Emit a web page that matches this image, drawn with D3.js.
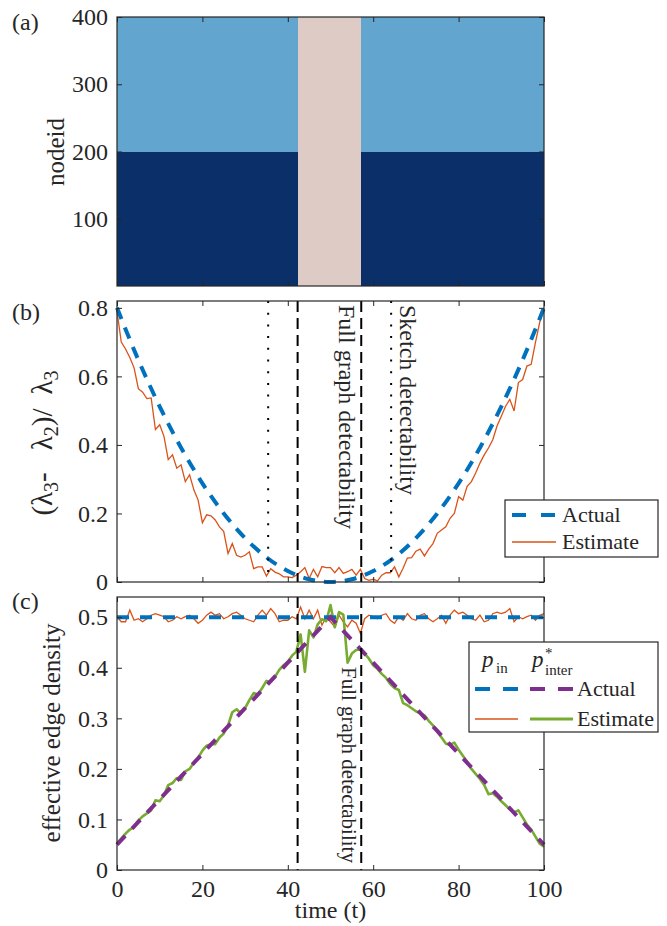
<!DOCTYPE html>
<html>
<head>
<meta charset="utf-8">
<script src="https://cdn.jsdelivr.net/npm/d3@7"></script>
<style>
  body { margin: 0; background: #fff; }
  svg text { font-family: "Liberation Serif", "Times New Roman", serif; fill: #262626; }
</style>
</head>
<body>
<div id="chart"></div>
<script>
// ---- data ----
const timeTicks = [0, 20, 40, 60, 80, 100];
const nodeTicks = [100, 200, 300, 400];
const gapTicks = [0, 0.2, 0.4, 0.6, 0.8];
const densityTicks = [0, 0.1, 0.2, 0.3, 0.4, 0.5];

// panel (a): community layout over time
const communityEdges = [0, 200, 400];
const windowEdges = [0, 42.3, 57.2, 100];

// detectability thresholds (time)
const fullDetect = [42.3, 57.2];
const sketchDetect = [35.4, 64.2];

// panel (b): spectral gap, actual curve sampled every 5 time steps
const actualTimes = [0, 5, 10, 15, 20, 25, 30, 35, 40, 45, 50, 55, 60, 65, 70, 75, 80, 85, 90, 95, 100];
const gapActual = [0.8, 0.648, 0.512, 0.392, 0.288, 0.2, 0.128, 0.072, 0.032, 0.008, 0,
                   0.008, 0.032, 0.072, 0.128, 0.2, 0.288, 0.392, 0.512, 0.648, 0.8];
// estimate, one value per time step t = 0..100
const gapEstimate = [
  0.79, 0.70, 0.68, 0.655, 0.625, 0.564, 0.554, 0.535, 0.537, 0.445,
  0.459, 0.425, 0.357, 0.371, 0.332, 0.342, 0.293, 0.313, 0.269, 0.239,
  0.173, 0.196, 0.193, 0.181, 0.161, 0.147, 0.083, 0.112, 0.078, 0.073,
  0.078, 0.088, 0.039, 0.044, 0.044, 0.017, 0.039, 0.029, 0.024, 0.015,
  0.015, 0.013, 0.02, 0.03, 0.042, 0.01, 0.037, 0.015, 0.045, 0.042,
  0.042, 0.027, 0.042, 0.025, 0.03, 0.037, 0.02, 0.037, 0.01, 0.005,
  0.008, 0.003, 0.02, 0.027, 0.027, 0.044, 0.015, 0.04, 0.07, 0.071,
  0.09, 0.096, 0.076, 0.096, 0.112, 0.142, 0.152, 0.161, 0.186, 0.2,
  0.249, 0.239, 0.279, 0.293, 0.318, 0.347, 0.371, 0.391, 0.415, 0.455,
  0.484, 0.513, 0.533, 0.499, 0.582, 0.591, 0.63, 0.635, 0.699, 0.758,
  0.797
];

// panel (c): edge densities
const pinActual = [0.5, 0.5, 0.5, 0.5, 0.5, 0.5, 0.5, 0.5, 0.5, 0.5, 0.5,
                   0.5, 0.5, 0.5, 0.5, 0.5, 0.5, 0.5, 0.5, 0.5, 0.5];
const pinterActual = [0.05, 0.095, 0.14, 0.185, 0.23, 0.275, 0.32, 0.365, 0.41, 0.455, 0.5,
                      0.455, 0.41, 0.365, 0.32, 0.275, 0.23, 0.185, 0.14, 0.095, 0.05];
const pinEstimate = [
  0.501, 0.491, 0.491, 0.514, 0.494, 0.497, 0.491, 0.497, 0.504, 0.507,
  0.504, 0.501, 0.491, 0.494, 0.501, 0.497, 0.501, 0.504, 0.497, 0.488,
  0.494, 0.504, 0.510, 0.504, 0.507, 0.497, 0.501, 0.507, 0.510, 0.504,
  0.497, 0.494, 0.491, 0.504, 0.514, 0.504, 0.517, 0.507, 0.491, 0.494,
  0.494, 0.501, 0.497, 0.520, 0.497, 0.514, 0.497, 0.514, 0.484, 0.501,
  0.491, 0.481, 0.504, 0.491, 0.481, 0.494, 0.488, 0.468, 0.497, 0.504,
  0.501, 0.497, 0.504, 0.507, 0.494, 0.488, 0.501, 0.494, 0.507, 0.497,
  0.494, 0.504, 0.507, 0.497, 0.491, 0.497, 0.504, 0.488, 0.504, 0.514,
  0.507, 0.510, 0.504, 0.497, 0.494, 0.504, 0.491, 0.494, 0.507, 0.510,
  0.507, 0.510, 0.517, 0.491, 0.501, 0.497, 0.501, 0.504, 0.494, 0.504,
  0.507
];
const pinterEstimate = [
  0.053, 0.062, 0.072, 0.08, 0.085, 0.098, 0.106, 0.112, 0.118, 0.138,
  0.136, 0.148, 0.168, 0.172, 0.182, 0.178, 0.195, 0.2, 0.212, 0.222,
  0.236, 0.246, 0.249, 0.249, 0.262, 0.27, 0.286, 0.312, 0.318, 0.31,
  0.32, 0.336, 0.35, 0.347, 0.36, 0.374, 0.372, 0.382, 0.396, 0.405,
  0.412, 0.424, 0.432, 0.466, 0.392, 0.474, 0.46, 0.486, 0.496, 0.492,
  0.524, 0.48, 0.51, 0.505, 0.41, 0.428, 0.435, 0.436, 0.428, 0.418,
  0.405, 0.398, 0.388, 0.38, 0.368, 0.36, 0.356, 0.33, 0.326, 0.32,
  0.314, 0.31, 0.306, 0.295, 0.286, 0.274, 0.262, 0.25, 0.248, 0.252,
  0.238, 0.226, 0.214, 0.2, 0.19, 0.18, 0.168, 0.15, 0.152, 0.145,
  0.136, 0.128, 0.12, 0.114, 0.118, 0.104, 0.09, 0.08, 0.066, 0.052,
  0.046
];

// ---- layout ----
const width = 667;
const height = 926;
const left = 117;
const right = 544;
const tickFont = 24;
const axisColor = '#262626';
const blue = '#0072bd', orange = '#d95319', purple = '#7e2f8e', green = '#77ac30';

const x = d3.scaleLinear().domain([0, 100]).range([left, right]);
const yA = d3.scaleLinear().domain([0, 400]).range([286, 17]);
const yB = d3.scaleLinear().domain([0, 0.82]).range([582, 301]);
const yC = d3.scaleLinear().domain([0, 0.54]).range([870, 597]);

const fmtDec = d => d === 0 ? '0' : d3.format('.1f')(d);

const svg = d3.select('#chart').append('svg')
    .attr('width', width)
    .attr('height', height);

let styleAxis = function (g, size) {
    g.select('.domain').remove();
    g.selectAll('line').attr('stroke', axisColor);
    g.selectAll('text')
        .attr('font-family', '"Liberation Serif", "Times New Roman", serif')
        .attr('font-size', size)
        .attr('fill', axisColor);
}

// axes box with inward ticks on all four sides
let drawFrame = function (g, y, yTicks, yFmt, xLabels) {
    const [yBot, yTop] = y.range();
    g.append('g').attr('transform', `translate(0,${yBot})`)
        .call(d3.axisBottom(x).tickValues(timeTicks).tickSize(-5).tickPadding(10)
            .tickFormat(xLabels ? d3.format('d') : ''))
        .call(s => styleAxis(s, tickFont));
    g.append('g').attr('transform', `translate(0,${yTop})`)
        .call(d3.axisTop(x).tickValues(timeTicks).tickSize(-5).tickFormat(''))
        .call(s => styleAxis(s, tickFont));
    g.append('g').attr('transform', `translate(${left},0)`)
        .call(d3.axisLeft(y).tickValues(yTicks).tickSize(-5).tickPadding(9).tickFormat(yFmt))
        .call(s => styleAxis(s, tickFont));
    g.append('g').attr('transform', `translate(${right},0)`)
        .call(d3.axisRight(y).tickValues(yTicks).tickSize(-5).tickFormat(''))
        .call(s => styleAxis(s, tickFont));
    g.append('rect')
        .attr('x', left).attr('y', yTop)
        .attr('width', right - left).attr('height', yBot - yTop)
        .attr('fill', 'none').attr('stroke', axisColor).attr('stroke-width', 1.2);
}

let vline = function (g, y, t, dash) {
    const [yBot, yTop] = y.range();
    g.append('line')
        .attr('x1', x(t)).attr('x2', x(t))
        .attr('y1', yTop).attr('y2', yBot)
        .attr('stroke', '#000').attr('stroke-width', 2)
        .attr('stroke-dasharray', dash);
}

let panelLabel = function (txt, py) {
    svg.append('text').attr('x', 12).attr('y', py).attr('font-size', 24).text(txt);
}

// ---- panel (a) ----
const gA = svg.append('g');
const blockColors = ['#0a2f69', '#62a5cf'];
const mergedColor = '#dfcbc5';
d3.range(windowEdges.length - 1).forEach(w => {
    d3.range(communityEdges.length - 1).forEach(c => {
        gA.append('rect')
            .attr('x', x(windowEdges[w]))
            .attr('y', yA(communityEdges[c + 1]))
            .attr('width', x(windowEdges[w + 1]) - x(windowEdges[w]))
            .attr('height', yA(communityEdges[c]) - yA(communityEdges[c + 1]))
            .attr('shape-rendering', 'crispEdges')
            .attr('fill', w === 1 ? mergedColor : blockColors[c]);
    });
});
drawFrame(gA, yA, nodeTicks, d3.format('d'), false);
gA.append('text')
    .attr('transform', `translate(64,152) rotate(-90)`)
    .attr('text-anchor', 'middle').attr('font-size', 25)
    .text('nodeid');
panelLabel('(a)', 30);

// ---- panel (b) ----
const gB = svg.append('g');
const lineB = d3.line().x((d, i) => x(i)).y(d => yB(d));
const lineBActual = d3.line().x((d, i) => x(actualTimes[i])).y(d => yB(d)).curve(d3.curveMonotoneX);

gB.append('path').datum(gapEstimate)
    .attr('d', lineB).attr('fill', 'none')
    .attr('stroke', orange).attr('stroke-width', 1.3);
gB.append('path').datum(gapActual)
    .attr('d', lineBActual).attr('fill', 'none')
    .attr('stroke', blue).attr('stroke-width', 4)
    .attr('stroke-dasharray', '12,9');

sketchDetect.forEach(t => vline(gB, yB, t, '2,9.7'));
fullDetect.forEach(t => vline(gB, yB, t, '11,6'));

gB.append('text')
    .attr('transform', `translate(339,305) rotate(90)`)
    .attr('font-size', 24).text('Full graph detectability');
gB.append('text')
    .attr('transform', `translate(400,305) rotate(90)`)
    .attr('font-size', 24).text('Sketch detectability');

drawFrame(gB, yB, gapTicks, fmtDec, false);

// y label with subscripts
const labB = gB.append('text')
    .attr('transform', `translate(52,443) rotate(-90)`)
    .attr('text-anchor', 'middle').attr('font-size', 29);
labB.append('tspan').text('(λ');
labB.append('tspan').attr('font-size', 20).attr('dy', 6).text('3');
labB.append('tspan').attr('dy', -6).text('-');
labB.append('tspan').attr('dx', 22).text('λ');
labB.append('tspan').attr('font-size', 20).attr('dy', 6).text('2');
labB.append('tspan').attr('dy', -6).text(')/');
labB.append('tspan').attr('dx', 14).text('λ');
labB.append('tspan').attr('font-size', 20).attr('dy', 6).text('3');
panelLabel('(b)', 320);

// legend (b)
const legB = gB.append('g');
legB.append('rect').attr('x', 505).attr('y', 500).attr('width', 153).attr('height', 57)
    .attr('fill', '#fff').attr('stroke', axisColor).attr('stroke-width', 1.2);
legB.append('line').attr('x1', 512).attr('x2', 556).attr('y1', 515).attr('y2', 515)
    .attr('stroke', blue).attr('stroke-width', 4).attr('stroke-dasharray', '14,15');
legB.append('line').attr('x1', 512).attr('x2', 556).attr('y1', 542).attr('y2', 542)
    .attr('stroke', orange).attr('stroke-width', 1.3);
legB.append('text').attr('x', 562).attr('y', 522).attr('font-size', 22).text('Actual');
legB.append('text').attr('x', 562).attr('y', 549).attr('font-size', 22).text('Estimate');

// ---- panel (c) ----
const gC = svg.append('g');
const lineC = d3.line().x((d, i) => x(i)).y(d => yC(d));
const lineCActual = d3.line().x((d, i) => x(actualTimes[i])).y(d => yC(d));

gC.append('path').datum(pinEstimate)
    .attr('d', lineC).attr('fill', 'none')
    .attr('stroke', orange).attr('stroke-width', 1.3);
gC.append('path').datum(pinterEstimate)
    .attr('d', lineC).attr('fill', 'none')
    .attr('stroke', green).attr('stroke-width', 2.6).attr('stroke-linejoin', 'round');
gC.append('path').datum(pinActual)
    .attr('d', lineCActual).attr('fill', 'none')
    .attr('stroke', blue).attr('stroke-width', 4).attr('stroke-dasharray', '12,11');
gC.append('path').datum(pinterActual)
    .attr('d', lineCActual).attr('fill', 'none')
    .attr('stroke', purple).attr('stroke-width', 4).attr('stroke-dasharray', '12,10');

fullDetect.forEach(t => vline(gC, yC, t, '11,6'));
gC.append('text')
    .attr('transform', `translate(342,667) rotate(90)`)
    .attr('font-size', 21).text('Full graph detectability');

drawFrame(gC, yC, densityTicks, fmtDec, true);

gC.append('text')
    .attr('transform', `translate(60,733) rotate(-90)`)
    .attr('text-anchor', 'middle').attr('font-size', 25)
    .text('effective edge density');
svg.append('text')
    .attr('x', (left + right) / 2).attr('y', 918)
    .attr('text-anchor', 'middle').attr('font-size', 24)
    .text('time (t)');
panelLabel('(c)', 609);

// legend (c)
const legC = gC.append('g');
legC.append('rect').attr('x', 469).attr('y', 642).attr('width', 189).attr('height', 90)
    .attr('fill', '#fff').attr('stroke', axisColor).attr('stroke-width', 1.2);
legC.append('text').attr('x', 482).attr('y', 667).attr('font-size', 23)
    .attr('font-style', 'italic').text('p');
legC.append('text').attr('x', 496).attr('y', 673).attr('font-size', 15).text('in');
legC.append('text').attr('x', 532).attr('y', 667).attr('font-size', 23)
    .attr('font-style', 'italic').text('p');
legC.append('text').attr('x', 545).attr('y', 658).attr('font-size', 15).text('*');
legC.append('text').attr('x', 545).attr('y', 675).attr('font-size', 15).text('inter');
legC.append('line').attr('x1', 475).attr('x2', 518).attr('y1', 689).attr('y2', 689)
    .attr('stroke', blue).attr('stroke-width', 4).attr('stroke-dasharray', '15,13');
legC.append('line').attr('x1', 530).attr('x2', 573).attr('y1', 689).attr('y2', 689)
    .attr('stroke', purple).attr('stroke-width', 4).attr('stroke-dasharray', '15,13');
legC.append('line').attr('x1', 475).attr('x2', 518).attr('y1', 719).attr('y2', 719)
    .attr('stroke', orange).attr('stroke-width', 1.3);
legC.append('line').attr('x1', 530).attr('x2', 573).attr('y1', 719).attr('y2', 719)
    .attr('stroke', green).attr('stroke-width', 2.8);
legC.append('text').attr('x', 577).attr('y', 696).attr('font-size', 22).text('Actual');
legC.append('text').attr('x', 577).attr('y', 726).attr('font-size', 22).text('Estimate');
</script>
</body>
</html>
